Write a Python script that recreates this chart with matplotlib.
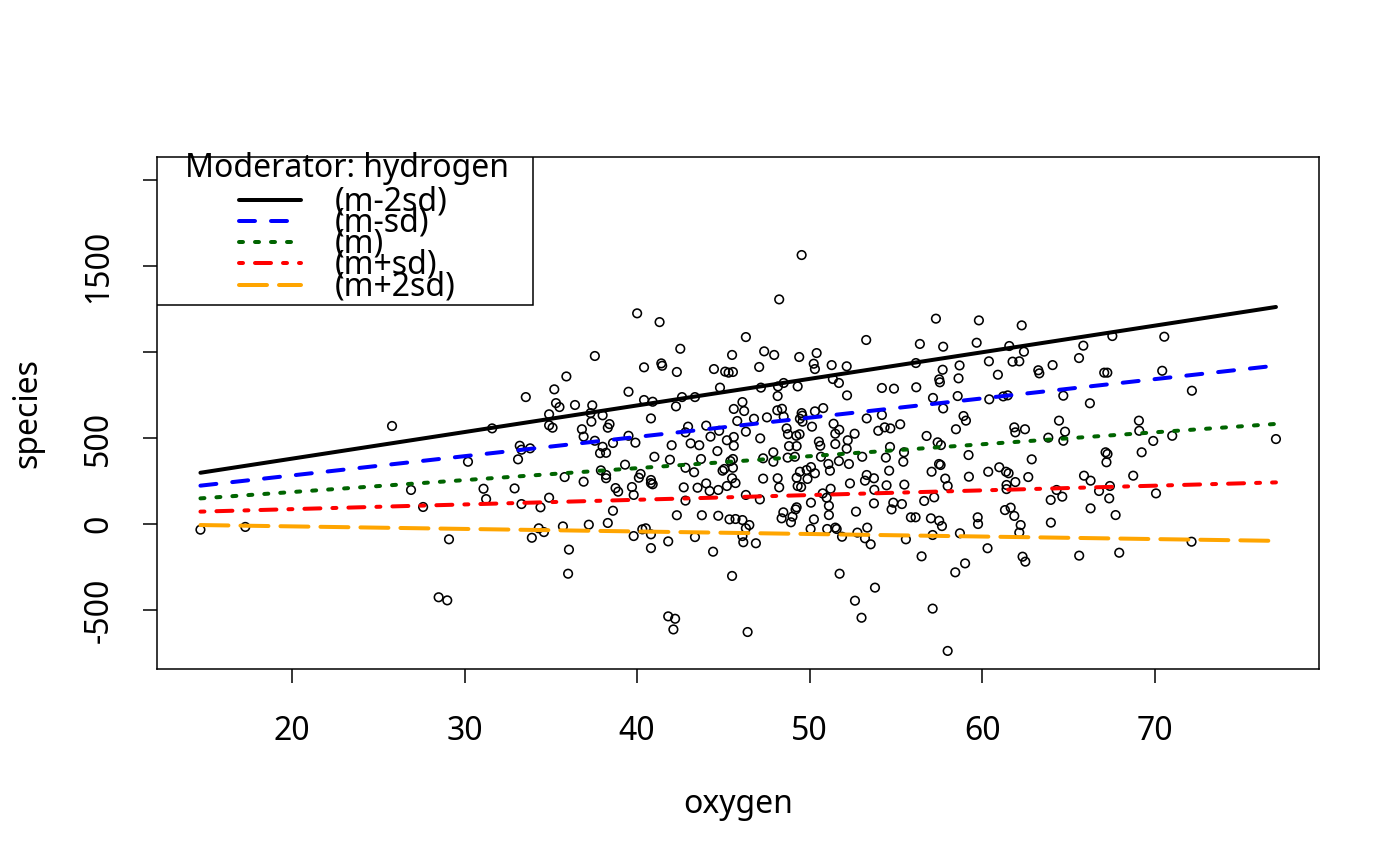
import matplotlib
matplotlib.use('Agg')
import matplotlib.pyplot as plt
from matplotlib.patches import Rectangle

plt.rcParams['font.family'] = ['Noto Sans', 'DejaVu Sans']

oxygen = [
    25.8, 14.7, 17.3, 26.9, 27.6, 29.1, 28.5, 29.0, 30.2,
    40.0, 41.3, 46.3, 42.5, 37.55, 45.5, 41.4, 41.45, 40.4, 42.3, 44.45, 45.1, 45.3, 45.55, 35.9, 35.2,
    33.55, 39.5, 44.8, 35.3, 35.5, 36.4, 37.4, 40.4, 40.9, 42.6, 43.35, 42.25, 46.1, 45.6, 46.2, 34.9,
    37.3, 38.0, 40.8, 45.8, 37.35, 34.9, 35.1, 31.6, 38.4, 38.3, 36.8, 36.9, 37.55, 39.5, 39.9, 38.6,
    38.0, 42.95, 42.8, 44.0, 44.25, 44.75, 45.2, 45.6, 45.6, 46.3, 43.1, 43.6, 42.0, 33.2, 33.8, 33.3,
    44.65, 37.85, 38.2,
    33.1, 41.0, 41.9, 39.3, 37.9, 38.2, 38.2, 35.8, 36.9, 40.2, 40.1, 40.8, 40.9, 40.8, 42.8, 43.3,
    43.7, 45.05, 44.95, 45.55, 45.4, 45.55, 45.5, 45.7, 45.2, 44.7, 44.2, 44.0, 43.5, 42.7, 42.8, 39.7,
    39.8, 38.75, 38.9, 31.1, 31.25, 32.9, 33.3, 34.4, 34.9, 38.6, 38.3, 37.2, 35.7, 34.3, 34.6, 33.9,
    36.05, 36.0, 39.8, 40.3, 40.5, 40.8, 40.8, 41.8, 42.3, 43.35, 43.75, 44.7, 45.35, 45.7, 46.1, 46.3,
    46.5, 46.1, 46.15, 44.4, 45.5, 41.8, 42.2, 42.1, 46.4, 46.3,
    49.53, 48.23, 57.31, 59.8, 62.28, 53.27, 56.38, 57.73, 59.67, 61.56, 62.41, 47.36, 47.94, 49.39,
    50.4, 50.23, 50.3, 51.27, 52.14, 47.07, 56.15, 58.68, 57.7, 60.38, 61.75, 62.14, 60.9, 57.5, 57.54,
    58.62, 51.34, 51.69, 48.49, 47.17, 48.16, 49.3, 54.18, 54.88, 56.17, 48.14, 52.16, 57.14, 58.57,
    60.4, 61.21, 61.47, 48.12, 48.39, 48.49, 46.77, 47.52, 49.53, 49.57, 49.43, 49.58, 50.3, 50.78,
    53.3, 54.18, 57.73, 58.91, 59.05, 50.13, 48.66, 51.38, 51.71, 51.48, 55.24, 54.34, 54.67, 53.97,
    58.47, 61.85, 61.91, 62.47, 48.74, 49.22, 49.41, 47.13, 52.6, 52.2, 50.53, 50.61, 56.77, 57.41,
    57.6, 48.8, 49.24, 51.48, 52.14, 54.65, 47.89, 55.46,
    47.3, 47.89, 48.72, 49.14, 50.65, 51.69, 52.27, 53.04, 54.41, 55.42, 57.49, 57.58, 57.06, 59.2,
    60.34, 60.98, 61.37, 61.52, 62.66, 59.22, 61.91, 61.4, 61.4, 57.85, 57.99, 54.6, 54.45, 55.48,
    53.74, 53.3, 53.2, 53.72, 52.33, 51.08, 51.17, 50.07, 49.82, 49.43, 50.3, 49.24, 49.87, 49.3, 49.5,
    48.14, 48.23, 47.3, 51.21, 50.75, 50.98, 47.11, 50.07, 51.11, 51.11, 49.24, 49.18, 48.47, 49.0,
    48.37, 48.91, 50.24, 50.05, 51.01, 51.48, 51.56, 51.87, 52.68, 52.76, 53.33, 53.2, 53.53, 53.72,
    54.84, 54.74, 55.34, 56.63, 57.21, 55.86, 56.13, 57.02, 57.5, 57.66, 57.12, 55.57, 58.7, 59.73,
    59.75, 61.31, 61.64, 61.85, 62.22, 62.14, 46.88, 51.73, 52.62, 53.0, 53.78, 56.48, 57.12, 57.99,
    58.43, 59.0, 60.3, 62.33, 62.49,
    67.53, 70.54, 65.85, 65.6, 64.07, 63.24, 63.3, 67.06, 67.24, 70.42, 72.14, 64.69, 66.23, 64.44,
    64.79, 63.82, 64.69, 69.07, 69.09, 69.9, 71.0, 77.01, 67.14, 67.25, 69.23,
    67.19, 62.86, 65.89, 66.27, 68.74, 67.39, 66.76, 64.3, 63.96, 64.63, 67.35, 70.06, 66.27, 67.72,
    63.97, 72.12, 65.61, 67.93,
]

species = [
    570, -33, -17, 198, 99, -89, -426, -444, 362,
    1225, 1174, 1087, 1019, 977, 983, 934, 920, 911, 884, 901, 886, 880, 884, 858, 783,
    738, 769, 793, 703, 680, 692, 690, 721, 711, 738, 738, 684, 709, 669, 657, 638,
    645, 632, 614, 599, 595, 574, 560, 556, 581, 560, 551, 508, 484, 513, 473, 471,
    449, 566, 533, 572, 508, 542, 487, 506, 455, 537, 469, 458, 458, 455, 440, 432,
    424, 412, 414,
    376, 391, 374, 345, 312, 285, 266, 273, 246, 291, 269, 256, 231, 238, 327, 301,
    378, 320, 310, 327, 366, 378, 266, 238, 221, 198, 192, 236, 211, 213, 136, 215,
    169, 209, 188, 205, 145, 207, 116, 97, 153, 77, 6, -4, -14, -25, -47, -80,
    -149, -289, -70, -31, -25, -60, -140, -101, 51, -76, 51, 48, 27, 29, 23, -25,
    -6, -70, -106, -161, -302, -537, -551, -613, -628, 169,
    1564, 1306, 1194, 1184, 1155, 1070, 1047, 1031, 1054, 1035, 1002, 1004, 983, 971,
    994, 932, 901, 924, 917, 913, 936, 922, 897, 946, 944, 946, 868, 841, 824,
    847, 843, 820, 820, 793, 800, 800, 791, 787, 795, 744, 748, 733, 744,
    725, 742, 748, 661, 670, 624, 612, 620, 645, 630, 612, 595, 655, 674,
    614, 634, 672, 628, 601, 566, 556, 583, 548, 525, 580, 562, 556, 542,
    551, 562, 533, 551, 522, 513, 522, 498, 525, 487, 479, 455, 512, 475,
    459, 453, 453, 465, 438, 448, 417, 417,
    382, 362, 386, 391, 391, 366, 349, 391, 386, 362, 349, 343, 304, 401,
    304, 330, 304, 295, 273, 275, 244, 227, 203, 264, 221, 310, 225, 229,
    199, 285, 252, 266, 236, 349, 310, 331, 314, 304, 295, 269, 262, 221, 215,
    266, 213, 264, 205, 178, 153, 143, 124, 106, 52, 97, 85, 68, 43,
    33, 10, 27, -29, -29, -21, -29, -74, 72, -50, -21, -83, -118, 120,
    124, 85, 116, 134, 155, 39, 39, 33, 19, -12, -64, -89, -54, 39,
    0, 81, 95, 47, -6, -50, -112, -289, -446, -545, -370, -188, -492, -738,
    -281, -229, -141, -190, -219,
    1093, 1089, 1037, 965, 924, 894, 876, 880, 880, 891, 775, 746, 702, 601,
    537, 502, 484, 601, 542, 483, 513, 494, 417, 407, 417,
    359, 376, 281, 252, 281, 221, 192, 198, 140, 159, 149, 178, 91, 52,
    8, -103, -184, -167,
]

legend_labels = ['(m-2sd)', '(m-sd)', '(m)', '(m+sd)', '(m+2sd)']
line_start = [298, 223, 149, 72, -6]
line_end = [1262, 921, 582, 242, -98]
line_colors = ['black', 'blue', '#006400', 'red', '#FFA500']
line_styles = ['-', (0, (4, 4)), (0, (1, 3)), (0, (1, 3, 4, 3)), (0, (7, 3))]

FS = 23
LW = 2.88

fig = plt.figure(figsize=(14, 8.66), dpi=100)
ax = fig.add_axes([0.1121, 0.2275, 0.83, 0.5912])

ax.scatter(oxygen, species, s=38, facecolors='none', edgecolors='black',
           linewidths=1.15, zorder=2)

x0, x1 = min(oxygen), max(oxygen)
for ys, ye, c, ls in zip(line_start, line_end, line_colors, line_styles):
    ax.plot([x0, x1], [ys, ye], color=c, linestyle=ls, linewidth=LW,
            dash_capstyle='round', solid_capstyle='round', zorder=3)

ax.set_xlim(12.18, 79.5)
ax.set_ylim(-843, 2134)
ax.set_xticks([20, 30, 40, 50, 60, 70])
ax.set_xticklabels(['20', '30', '40', '50', '60', '70'])
ax.set_yticks([-500, 0, 500, 1000, 1500, 2000])
ax.set_yticklabels(['-500', '0', '500', '', '1500', ''], rotation=90, va='center')
ax.tick_params(axis='both', labelsize=FS, length=10, width=1.1, direction='out')
ax.tick_params(axis='x', pad=23)
ax.tick_params(axis='y', pad=20)
for sp in ax.spines.values():
    sp.set_linewidth(1.1)

ax.set_xlabel('oxygen', fontsize=FS)
ax.set_ylabel('species', fontsize=FS)
ax.xaxis.label.set_va('center')
ax.xaxis.set_label_coords(0.5, -0.2656)
ax.yaxis.label.set_va('center')
ax.yaxis.set_label_coords(-0.111, 0.5)

# legend (drawn manually to reproduce R's tight spacing)
ax.add_patch(Rectangle((0, 0.7104), 0.3238, 0.2896, transform=ax.transAxes,
                       facecolor='white', edgecolor='black', linewidth=1.1, zorder=4))
ax.text(0.1633, 0.9766, 'Moderator: hydrogen', transform=ax.transAxes,
        ha='center', va='center', fontsize=FS, zorder=5)
leg_y = [0.916, 0.8756, 0.8346, 0.7924, 0.75]
for y, lab, c, ls in zip(leg_y, legend_labels, line_colors, line_styles):
    ax.plot([0.0703, 0.1242], [y, y], transform=ax.transAxes, color=c, linestyle=ls,
            linewidth=LW, dash_capstyle='round', solid_capstyle='round', zorder=5,
            clip_on=False)
    ax.text(0.1526, y - 0.004, lab, transform=ax.transAxes, ha='left', va='center',
            fontsize=FS, zorder=5)

fig.savefig('out.png', dpi=100)
